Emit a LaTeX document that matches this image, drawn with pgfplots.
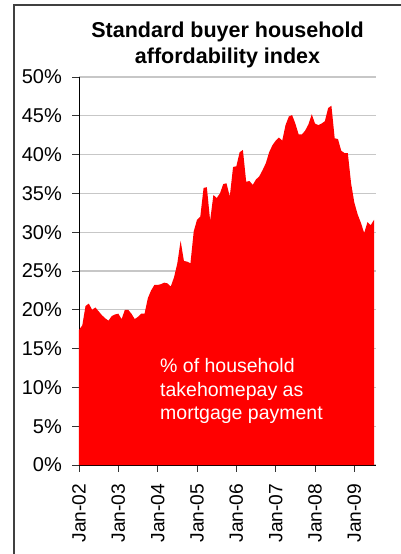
\documentclass[border=0pt]{standalone}
\usepackage{pgfplots}
\pgfplotsset{compat=1.18}
\usepackage{fontspec}
\setmainfont{Liberation Sans}
\pgfplotstableread{
m v
0 17.4
1 18.0
2 20.5
3 20.8
4 20.0
5 20.3
6 19.8
7 19.3
8 18.9
9 18.6
10 19.2
11 19.4
12 19.5
13 18.8
14 20.0
15 20.0
16 19.5
17 18.8
18 19.1
19 19.5
20 19.5
21 21.5
22 22.5
23 23.2
24 23.2
25 23.3
26 23.5
27 23.4
28 23.0
29 24.2
30 26.0
31 28.9
32 26.3
33 26.2
34 26.0
35 30.1
36 31.6
37 32.0
38 35.7
39 35.8
40 31.5
41 34.8
42 34.4
43 35.0
44 36.2
45 36.3
46 34.6
47 38.4
48 38.5
49 40.3
50 40.6
51 36.5
52 36.6
53 36.1
54 36.8
55 37.2
56 38.0
57 38.9
58 40.3
59 41.2
60 41.8
61 42.2
62 41.8
63 43.8
64 44.9
65 45.1
66 44.0
67 42.6
68 42.6
69 43.1
70 43.9
71 45.2
72 44.0
73 43.8
74 44.0
75 44.3
76 46.0
77 46.3
78 42.1
79 42.0
80 40.5
81 40.2
82 40.2
83 36.3
84 33.8
85 32.3
86 31.2
87 29.9
88 31.3
89 30.9
90 31.6
}\datatable
\begin{document}
\begin{tikzpicture}
\useasboundingbox (-79bp,-89bp) rectangle (322bp,465bp);
\draw[line width=1.5bp, black!75] (-65bp,-95bp) -- (-65bp,460bp) -- (330bp,460bp);
\begin{axis}[
  scale only axis,
  width=297bp, height=388bp,
  xmin=0, xmax=90.6, ymin=0, ymax=50,
  axis x line=bottom, axis y line=left,
  axis line style={-, black, line width=0.8bp},
  tick align=outside,
  major tick length=6.5bp,
  tick style={black!80, line width=0.8bp},
  xtick={0,12,24,36,48,60,72,84},
  xticklabels={Jan-02,Jan-03,Jan-04,Jan-05,Jan-06,Jan-07,Jan-08,Jan-09},
  xticklabel style={rotate=90, anchor=east, inner ysep=2bp, inner xsep=12bp, font=\fontsize{19.2bp}{22bp}\selectfont},
  ytick={0,5,...,50},
  yticklabel={\pgfmathprintnumber{\tick}\%},
  /pgf/number format/assume math mode=true,
  ymajorgrids,
  major grid style={draw=black!22, line width=1.2bp},
  yticklabel style={inner sep=2bp, xshift=-8.5bp, font=\fontsize{20bp}{23bp}\selectfont},
  clip=false,
]
\addplot[draw=none, fill=red] table[x=m, y=v] {\datatable} \closedcycle;
\end{axis}
\node[anchor=base, font=\bfseries\fontsize{21.5bp}{26bp}\selectfont] at (148.5bp,427bp) {Standard buyer household};
\node[anchor=base, font=\bfseries\fontsize{21.5bp}{26bp}\selectfont] at (148.5bp,401bp) {affordability index};
\node[anchor=base west, inner sep=0pt, text=white, font=\fontsize{19.5bp}{23bp}\selectfont] at (81bp,92bp) {\% of household};
\node[anchor=base west, inner sep=0pt, text=white, font=\fontsize{19.5bp}{23bp}\selectfont] at (81bp,68bp) {takehomepay as};
\node[anchor=base west, inner sep=0pt, text=white, font=\fontsize{19.5bp}{23bp}\selectfont] at (81bp,45bp) {mortgage payment};
\end{tikzpicture}
\end{document}
